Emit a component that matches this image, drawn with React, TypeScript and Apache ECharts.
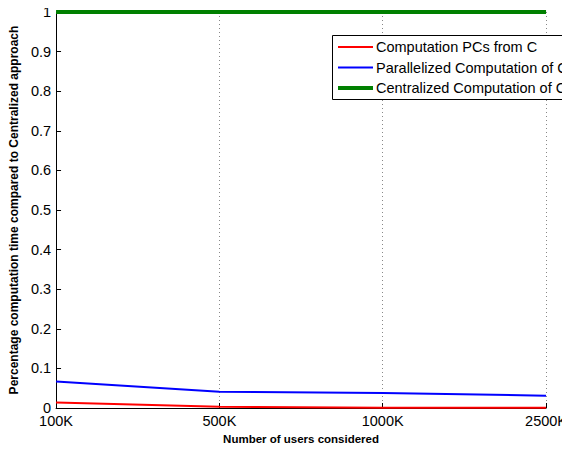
import React, { useEffect, useRef } from "react";
import * as echarts from "echarts";

// Dataset sizes on the horizontal axis
const categories = ["100K", "500K", "1000K", "2500K"];
// Computation time relative to the centralized approach
const pcsFromC = [0.014, 0.003, 0.0005, 0.0005];
const parallelized = [0.067, 0.041, 0.038, 0.031];
const centralized = [1, 1, 1, 1];

const seriesNames = [
  "Computation PCs from C",
  "Parallelized Computation of C",
  "Centralized Computation of C",
];
const seriesColors = ["#ff0000", "#0000ff", "#008000"];
const seriesWidths = [2, 2, 4];

const FONT = "'Liberation Sans', Arial, sans-serif";

export default function App() {
  const ref = useRef<HTMLDivElement>(null);

  useEffect(() => {
    if (!ref.current) return;
    const chart = echarts.init(ref.current, null, { renderer: "svg" });

    const legendX = 332;
    const legendY = 35;
    const rowGap = 20.5;
    const legendItems: any[] = [
      {
        type: "rect",
        shape: { x: legendX + 0.5, y: legendY + 0.5, width: 240, height: 64 },
        style: { fill: "#ffffff", stroke: "#000000", lineWidth: 1 },
        z: 10,
      },
    ];
    seriesNames.forEach((name, i) => {
      const cy = legendY + 12 + i * rowGap;
      legendItems.push({
        type: "line",
        shape: { x1: legendX + 6, y1: cy, x2: legendX + 41, y2: cy },
        style: { stroke: seriesColors[i], lineWidth: seriesWidths[i] },
        z: 11,
      });
      legendItems.push({
        type: "text",
        x: legendX + 44,
        y: cy,
        style: {
          text: name,
          font: `14.5px ${FONT}`,
          fill: "#000000",
          verticalAlign: "middle",
        },
        z: 11,
      });
    });

    const mkSeries = (i: number, data: number[]) => ({
      name: seriesNames[i],
      type: "line",
      data,
      symbol: "none",
      clip: false,
      lineStyle: { color: seriesColors[i], width: seriesWidths[i] },
      itemStyle: { color: seriesColors[i] },
      z: 3 + i,
    });

    chart.setOption({
      animation: false,
      backgroundColor: "#ffffff",
      grid: { left: 49, right: 22, top: 12, bottom: 39 },
      xAxis: {
        type: "category",
        data: categories,
        boundaryGap: false,
        name: "Number of users considered",
        nameLocation: "middle",
        nameGap: 25,
        nameTextStyle: {
          fontFamily: FONT,
          fontSize: 11.5,
          fontWeight: "bold",
          color: "#000",
        },
        axisLine: { lineStyle: { color: "#000", width: 1 } },
        axisTick: {
          inside: true,
          length: 5,
          alignWithLabel: true,
          lineStyle: { color: "#000" },
        },
        axisLabel: {
          fontFamily: FONT,
          fontSize: 14.5,
          color: "#000",
          margin: 5,
        },
        splitLine: {
          show: true,
          lineStyle: { color: "#888", type: [1, 3], width: 1 },
        },
      },
      yAxis: {
        type: "value",
        min: 0,
        max: 1,
        interval: 0.1,
        name: "Percentage computation time compared to Centralized approach",
        nameLocation: "middle",
        nameGap: 32,
        nameTextStyle: {
          fontFamily: FONT,
          fontSize: 12,
          fontWeight: "bold",
          color: "#000",
        },
        axisLine: { show: true, lineStyle: { color: "#000", width: 1 } },
        axisTick: {
          show: true,
          inside: true,
          length: 5,
          lineStyle: { color: "#000" },
        },
        axisLabel: {
          fontFamily: FONT,
          fontSize: 14.5,
          color: "#000",
          margin: 5,
          formatter: (v: number) => String(Math.round(v * 10) / 10),
        },
        splitLine: { show: false },
      },
      series: [
        mkSeries(0, pcsFromC),
        mkSeries(1, parallelized),
        mkSeries(2, centralized),
      ],
      graphic: legendItems,
    });

    return () => chart.dispose();
  }, []);

  return <div ref={ref} style={{ width: 570, height: 450, marginLeft: -8, marginTop: -8 }} />;
}
